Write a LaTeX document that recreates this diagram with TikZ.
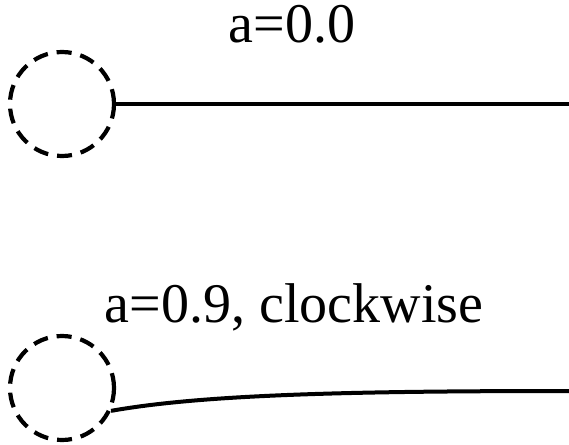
\documentclass[tikz,border=0pt]{standalone}
\usepackage{fontspec}
\setmainfont{Liberation Serif}
\begin{document}
\begin{tikzpicture}[x=1pt,y=-1pt,
  ring/.style={circle,draw,dash pattern=on 15pt off 9pt,line width=4.2pt,minimum size=104pt,inner sep=0pt},
  wire/.style={line width=4pt},
  lbl/.style={anchor=base,inner sep=0pt,font=\fontsize{56}{67}\selectfont}]
\useasboundingbox (0,0) rectangle (569,444);
\node[ring] (c1) at (62,104) {};
\node[ring] (c2) at (62,388) {};
\coordinate (e1) at (569,104);
\coordinate (e2) at (569,391);
\node[lbl] (t1) at (292,43) {a=0.0};
\node[lbl] (t2) at (294,322) {a=0.9, clockwise};
\draw[wire] (c1.east) -- (e1);
\draw[wire] (c2.-25) .. controls (200,395) and (340,391) .. (e2);
\end{tikzpicture}
\end{document}
